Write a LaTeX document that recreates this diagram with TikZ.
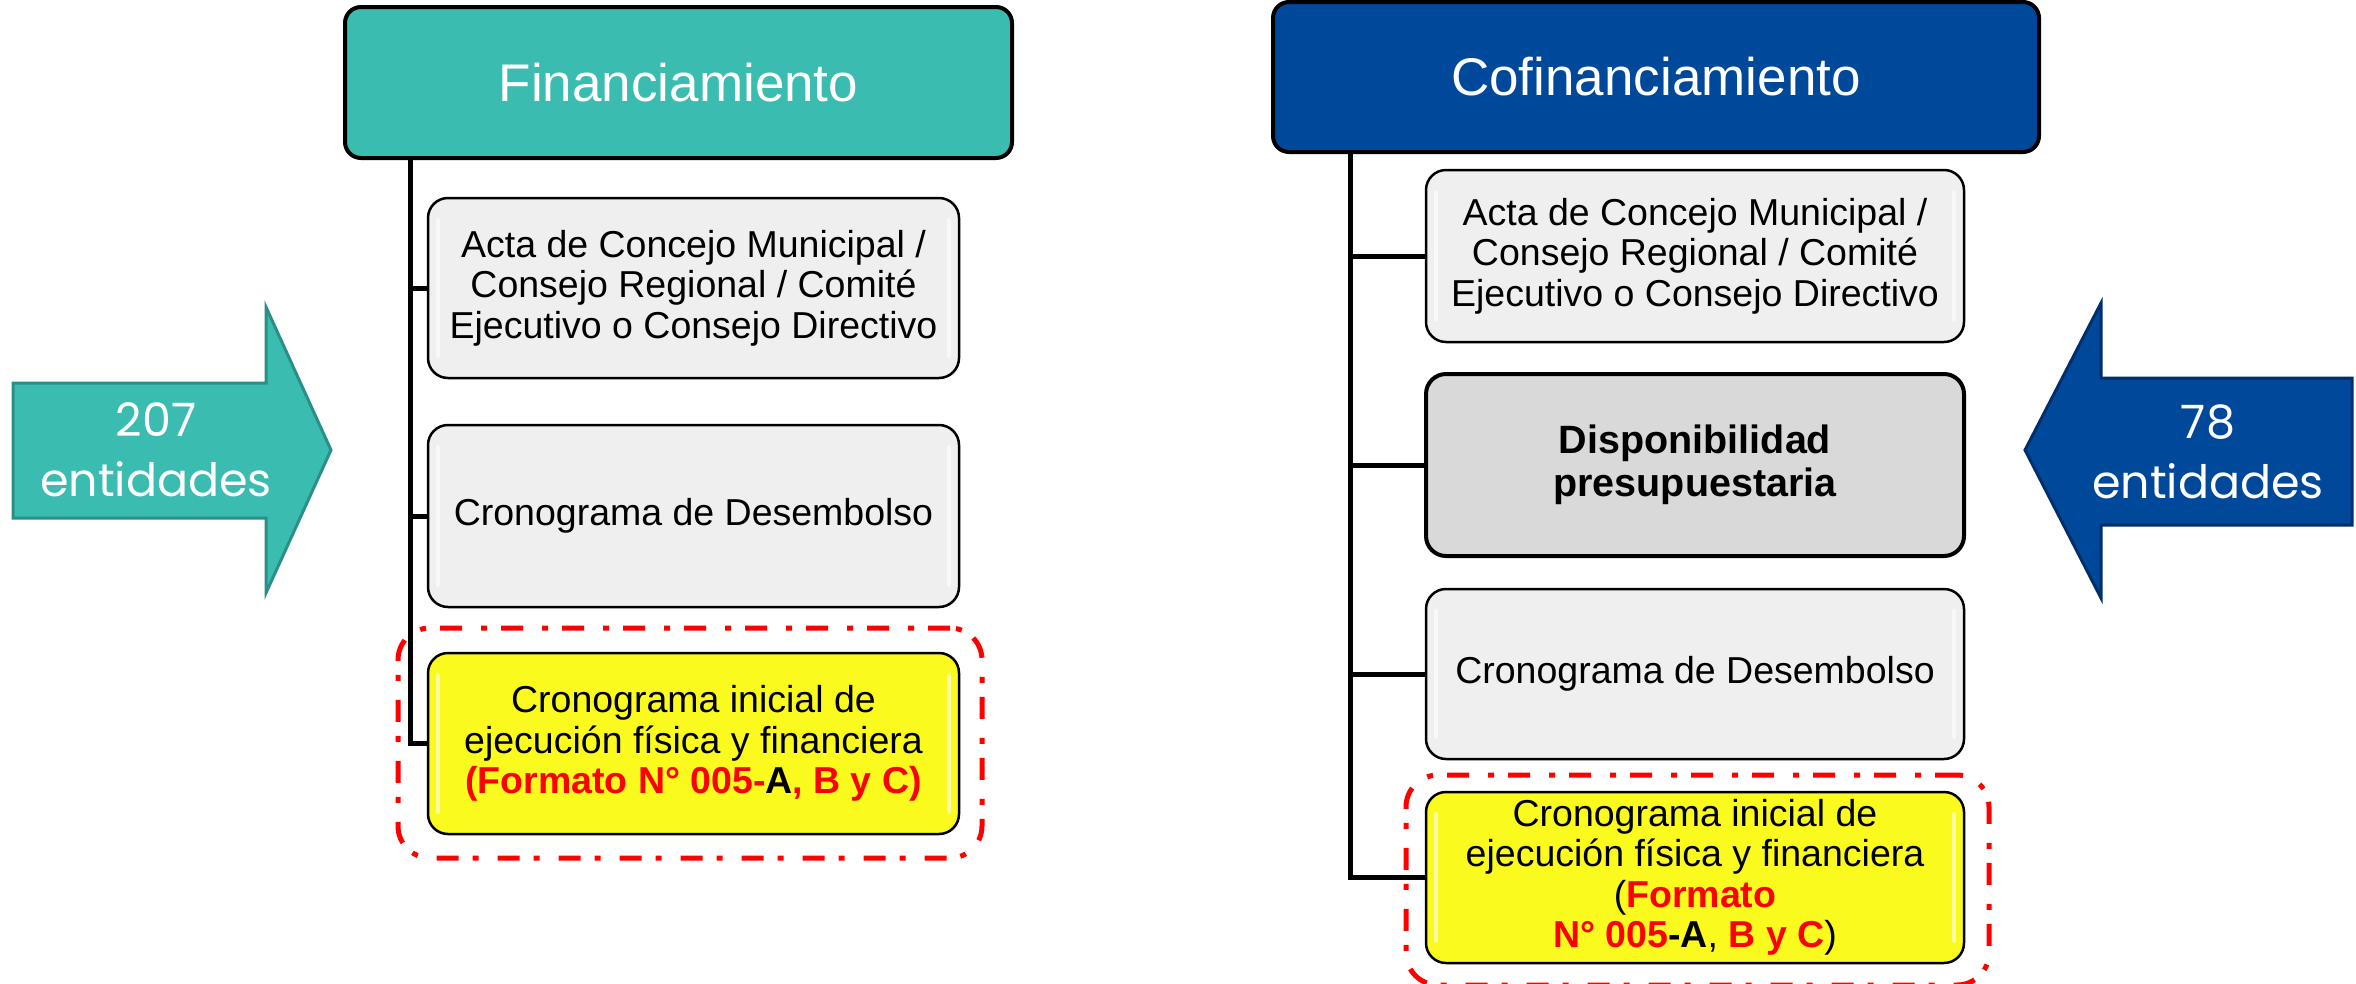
\documentclass[tikz,border=0pt]{standalone}
\usepackage{fontspec}
\setmainfont{Liberation Sans}
\newfontfamily\arrowfont{Poppins}
\usetikzlibrary{calc}
\definecolor{teal1}{HTML}{3BBCB0}
\definecolor{tealdark}{HTML}{2A8F86}
\definecolor{blue1}{HTML}{00489A}
\definecolor{bluedark}{HTML}{002F6C}
\definecolor{boxgray}{HTML}{EFEFEF}
\definecolor{dispgray}{HTML}{D9D9D9}
\definecolor{yel}{HTML}{FAFA1E}
\definecolor{redline}{HTML}{FF0000}
\begin{document}
\begin{tikzpicture}[x=1pt,y=-1pt,
  titlebox/.style={draw=black, line width=4pt, rounded corners=16pt, text=white,
    font=\fontsize{53}{60}\selectfont, inner sep=0pt},
  gloss/.style={path picture={
    \draw[white, line width=4pt, opacity=0.6, line cap=round]
      ([xshift=10pt,yshift=-22pt]path picture bounding box.north west) --
      ([xshift=10pt,yshift=22pt]path picture bounding box.south west);
    \draw[white, line width=4pt, opacity=0.6, line cap=round]
      ([xshift=-10pt,yshift=-22pt]path picture bounding box.north east) --
      ([xshift=-10pt,yshift=22pt]path picture bounding box.south east);}},
  docbox/.style={draw=black, line width=2.5pt, rounded corners=20pt, fill=boxgray,
    align=center, inner sep=0pt, font=\fontsize{37.5}{40.5}\selectfont, gloss},
  dispbox/.style={docbox, fill=dispgray, line width=4pt, path picture={},
    font=\fontsize{39.5}{43}\selectfont\bfseries},
  yelbox/.style={docbox, fill=yel},
  redbox/.style={draw=redline, line width=5pt, rounded corners=32pt,
    dash pattern=on 22pt off 14pt on 6pt off 19pt, inner sep=0pt},
  conn/.style={draw=black, line width=5pt},
  arrowtext/.style={text=white, align=center, inner sep=0pt,
    font=\arrowfont\fontsize{46}{60}\selectfont}
]
\useasboundingbox (0,0) rectangle (2356,983);

% ---------------- arrows ----------------
\draw[fill=teal1, draw=tealdark, line width=3pt, line join=miter]
  (13,383) -- (266,383) -- (266,307) -- (331,450) -- (266,593) -- (266,518) -- (13,518) -- cycle;
\node[arrowtext] (nL) at (156,450) {207\\entidades};

\draw[fill=blue1, draw=bluedark, line width=3pt, line join=miter]
  (2352,378) -- (2101,378) -- (2101,303) -- (2025,450) -- (2101,598) -- (2101,525) -- (2352,525) -- cycle;
\node[arrowtext] (nR) at (2208,452) {78\\entidades};

% ---------------- left column ----------------
\node[titlebox, fill=teal1, minimum width=667pt, minimum height=151pt] (tL) at (678.5,82.5) {Financiamiento};

\node[docbox, minimum width=531pt, minimum height=180pt] (aL) at (693.5,288)
  {Acta de Concejo Municipal /\\Consejo Regional / Comité\\Ejecutivo o Consejo Directivo};
\node[docbox, minimum width=531pt, minimum height=182pt] (cL) at (693.5,516)
  {Cronograma de Desembolso};
\node[yelbox, minimum width=531pt, minimum height=181pt] (yL) at (693.5,743.5)
  {Cronograma inicial de\\ejecución física y financiera\\
   \textcolor{redline}{\bfseries (Formato N° 005-}{\bfseries A}\textcolor{redline}{\bfseries , B y C)}};
\node[redbox, minimum width=584pt, minimum height=230pt] (rL) at (690,743) {};

\coordinate (vL) at (410,158);
\draw[conn] (vL) |- (yL.west);
\draw[conn] (vL |- aL.west) -- (aL.west);
\draw[conn] (vL |- cL.west) -- (cL.west);

% ---------------- right column ----------------
\node[titlebox, fill=blue1, minimum width=766pt, minimum height=150pt] (tR) at (1656,77) {Cofinanciamiento};

\node[docbox, minimum width=538pt, minimum height=172pt] (aR) at (1695,256)
  {Acta de Concejo Municipal /\\Consejo Regional / Comité\\Ejecutivo o Consejo Directivo};
\node[dispbox, minimum width=538pt, minimum height=182pt] (dR) at (1695,465)
  {Disponibilidad\\presupuestaria};
\node[docbox, minimum width=538pt, minimum height=170pt] (cR) at (1695,674)
  {Cronograma de Desembolso};
\node[yelbox, minimum width=538pt, minimum height=171pt] (yR) at (1695,877.5)
  {Cronograma inicial de\\ejecución física y financiera\\
   (\textcolor{redline}{\bfseries Formato}\\
   \textcolor{redline}{\bfseries N° 005}{\bfseries -A}, \textcolor{redline}{\bfseries B y C})};
\node[redbox, minimum width=583pt, minimum height=210pt] (rR) at (1697.5,880) {};

\coordinate (vR) at (1350,152);
\draw[conn] (vR) |- (yR.west);
\draw[conn] (vR |- aR.west) -- (aR.west);
\draw[conn] (vR |- dR.west) -- (dR.west);
\draw[conn] (vR |- cR.west) -- (cR.west);
\end{tikzpicture}
\end{document}
